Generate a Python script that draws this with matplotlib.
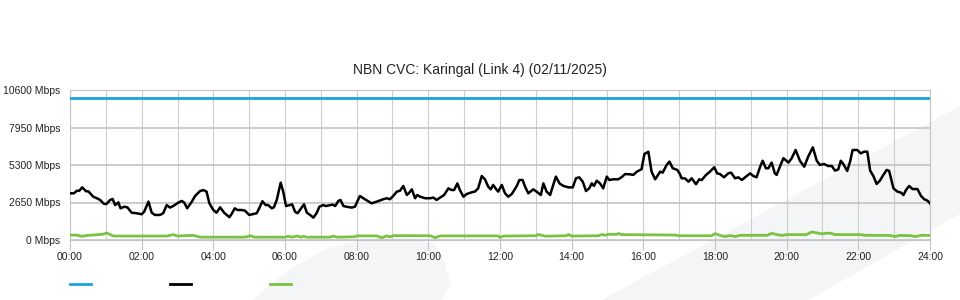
import matplotlib
matplotlib.use("Agg")
import matplotlib.pyplot as plt
from matplotlib.lines import Line2D
from matplotlib.patches import Polygon

plt.rcParams['font.family'] = ['Liberation Sans', 'DejaVu Sans']

# hours of the day and traffic in Mbps
capacity_t = [0, 24]
capacity_v = [10000, 10000]

traffic_t = [0.00, 0.11, 0.19, 0.26, 0.34, 0.45, 0.51, 0.65, 0.75, 0.84, 0.95, 1.02,
             1.12, 1.19, 1.26, 1.35, 1.41, 1.51, 1.60, 1.72, 1.86, 2.00, 2.07, 2.19,
             2.28, 2.37, 2.51, 2.60, 2.70, 2.79, 2.88, 3.02, 3.12, 3.19, 3.27, 3.40,
             3.49, 3.63, 3.72, 3.81, 3.89, 4.00, 4.09, 4.19, 4.30, 4.45, 4.51, 4.60,
             4.67, 4.79, 4.88, 5.00, 5.12, 5.21, 5.28, 5.37, 5.46, 5.53, 5.63, 5.69,
             5.77, 5.88, 5.95, 6.03, 6.14, 6.20, 6.28, 6.35, 6.45, 6.53, 6.61, 6.70,
             6.79, 6.88, 6.96, 7.07, 7.14, 7.24, 7.33, 7.40, 7.49, 7.55, 7.63, 7.72,
             7.86, 7.95, 8.09, 8.23, 8.42, 8.56, 8.74, 8.84, 8.93, 9.02, 9.12, 9.21,
             9.30, 9.40, 9.47, 9.54, 9.63, 9.69, 9.77, 9.91, 10.05, 10.14, 10.23, 10.33,
             10.44, 10.56, 10.65, 10.72, 10.81, 10.88, 10.98, 11.07, 11.21, 11.30, 11.39, 11.49,
             11.58, 11.67, 11.74, 11.81, 11.91, 11.95, 12.05, 12.14, 12.23, 12.33, 12.47, 12.54,
             12.63, 12.70, 12.79, 12.93, 13.02, 13.14, 13.21, 13.30, 13.40, 13.47, 13.56, 13.66,
             13.77, 13.91, 14.03, 14.12, 14.21, 14.31, 14.40, 14.49, 14.56, 14.62, 14.70, 14.79,
             14.88, 14.98, 15.05, 15.16, 15.30, 15.40, 15.49, 15.63, 15.72, 15.82, 15.95, 16.03,
             16.14, 16.23, 16.33, 16.47, 16.54, 16.65, 16.73, 16.82, 16.95, 17.02, 17.07, 17.16,
             17.26, 17.35, 17.47, 17.56, 17.63, 17.75, 17.86, 17.98, 18.06, 18.14, 18.25, 18.37,
             18.45, 18.56, 18.65, 18.75, 18.84, 18.98, 19.07, 19.16, 19.26, 19.33, 19.42, 19.49,
             19.58, 19.67, 19.72, 19.81, 19.91, 20.05, 20.14, 20.25, 20.37, 20.49, 20.60, 20.73,
             20.84, 20.93, 21.04, 21.16, 21.26, 21.35, 21.44, 21.51, 21.58, 21.69, 21.77, 21.84,
             21.97, 22.07, 22.16, 22.25, 22.33, 22.42, 22.51, 22.60, 22.70, 22.79, 22.86, 22.98,
             23.09, 23.19, 23.26, 23.33, 23.42, 23.51, 23.65, 23.75, 23.84, 23.93, 24.00]
traffic_v = [3300, 3300, 3480, 3480, 3720, 3440, 3440, 3060, 2950, 2830, 2550, 2550,
             2830, 2900, 2470, 2660, 2240, 2350, 2310, 1930, 1890, 1820, 2000, 2710,
             1930, 1770, 1770, 1890, 2470, 2290, 2400, 2640, 2760, 2640, 2240, 2710,
             3110, 3460, 3530, 3420, 2590, 2120, 1930, 2310, 1930, 1610, 1840, 2240,
             2120, 2120, 2080, 1770, 1840, 1890, 2240, 2740, 2470, 2470, 2240, 2310,
             2830, 4050, 3420, 2400, 2470, 2520, 2000, 1890, 2240, 2520, 1930, 1770,
             1580, 1890, 2350, 2470, 2400, 2450, 2500, 2400, 2760, 2830, 2400, 2350,
             2290, 2350, 3110, 2880, 2590, 2710, 2880, 2950, 2880, 3110, 3420, 3480,
             3820, 3180, 3350, 3580, 2950, 3180, 3060, 2950, 2950, 3000, 2830, 3000,
             3180, 3650, 3530, 3530, 4000, 3530, 3060, 3250, 3370, 3420, 3650, 4520,
             4290, 3770, 3580, 3890, 3530, 3420, 3890, 3300, 3060, 3250, 3820, 4240,
             4240, 3770, 3300, 3580, 3420, 3180, 4000, 3420, 3180, 3770, 4480, 4000,
             3820, 3720, 3720, 4360, 4430, 4120, 3460, 3650, 4000, 3820, 4190, 4000,
             3650, 4480, 4240, 4290, 4290, 4450, 4660, 4640, 4600, 4830, 5000, 6080,
             6240, 4830, 4290, 4830, 4760, 5300, 5540, 5070, 4950, 4660, 4360, 4360,
             4120, 4360, 3940, 4290, 4240, 4600, 4830, 5140, 4710, 4660, 4430, 4710,
             4760, 4360, 4430, 4240, 4430, 4710, 4520, 4430, 5180, 5600, 5070, 5070,
             5470, 4710, 4600, 5180, 5780, 5470, 5780, 6360, 5600, 5180, 5890, 6550,
             5600, 5300, 5370, 5230, 5230, 4900, 4990, 5600, 5370, 4880, 5540, 6360,
             6360, 6120, 6240, 6240, 4900, 4520, 3960, 4190, 4600, 4950, 4880, 3650,
             3420, 3350, 3180, 3530, 3820, 3600, 3600, 3110, 2880, 2780, 2590]

upload_t = [0, 0.2, 0.33, 0.5, 0.65, 0.93, 1.02, 1.21, 2.7, 2.88, 3.0, 3.44,
            3.63, 4.8, 4.93, 5.02, 5.16, 6.0, 6.09, 6.2, 6.33, 6.45, 6.51, 6.6,
            7.25, 7.35, 7.45, 7.95, 8.0, 8.56, 8.7, 8.84, 8.93, 9.02, 10.05, 10.19,
            10.33, 11.95, 12.0, 12.1, 13.0, 13.07, 13.26, 13.85, 13.91, 14.0, 14.75, 14.84,
            14.93, 15.02, 15.25, 15.3, 15.4, 16.9, 16.98, 17.9, 18.0, 18.14, 18.28, 18.42,
            18.56, 18.7, 19.45, 19.58, 19.72, 19.86, 20.0, 20.55, 20.7, 20.84, 20.98, 21.1,
            21.21, 21.35, 22.05, 22.19, 22.9, 23.02, 23.15, 23.44, 23.58, 23.77, 24.0]
upload_v = [350, 340, 260, 330, 350, 410, 500, 280, 280, 380, 280, 330,
            200, 200, 220, 300, 200, 200, 270, 200, 280, 200, 270, 200,
            200, 280, 200, 230, 290, 290, 160, 290, 220, 310, 300, 160,
            290, 290, 180, 280, 300, 390, 270, 300, 390, 280, 300, 390,
            330, 400, 400, 460, 380, 350, 300, 300, 450, 330, 240, 320,
            240, 330, 330, 470, 390, 320, 380, 380, 570, 500, 440, 470,
            490, 380, 380, 330, 320, 240, 320, 310, 240, 330, 330]

y_ticks = [0, 2650, 5300, 7950, 10600]
y_labels = ['0 Mbps', '2650 Mbps', '5300 Mbps', '7950 Mbps', '10600 Mbps']
x_ticks = list(range(0, 25, 2))
x_labels = ['%02d:00' % h for h in x_ticks]

grid_col = '#c4c4c4'
blue = '#1ba3e0'
green = '#7cc142'

fig = plt.figure(figsize=(9.6, 3.0), dpi=100)

# faint watermark swoosh behind the chart
wm = '#f4f5f7'
fig.patches.append(Polygon([(253/960, 0), (290/960, 30/300), (330/960, 52/300),
                            (377/960, 62/300), (410/960, 62/300), (435/960, 55/300),
                            (445/960, 35/300), (450/960, 15/300), (440/960, 0)],
                           closed=True, transform=fig.transFigure, color=wm, zorder=-5))
fig.patches.append(Polygon([(603/960, 0), (960/960, 193/300), (960/960, 87/300), (807/960, 0)],
                           closed=True, transform=fig.transFigure, color=wm, zorder=-5))

ax = fig.add_axes([70/960, 0.2, 860/960, 0.5])
ax.set_facecolor('none')
ax.set_zorder(2)

ax.plot(capacity_t, capacity_v, color=blue, lw=2.0, zorder=3)
ax.plot(traffic_t, traffic_v, color='black', lw=1.8, zorder=3)
ax.plot(upload_t, upload_v, color=green, lw=2.0, zorder=3)

ax.set_xlim(0, 24)
ax.set_ylim(0, 10600)
ax.set_yticks(y_ticks)
ax.set_yticklabels(y_labels)
ax.set_xticks(x_ticks)
ax.set_xticklabels(x_labels)
ax.set_xticks(range(25), minor=True)

ax.grid(axis='y', color=grid_col, lw=1.2)
ax.grid(axis='x', which='both', color='#cfcfcf', lw=0.8)
for s in ax.spines.values():
    s.set_color(grid_col)
    s.set_linewidth(0.8)

ax.tick_params(axis='y', length=0, pad=7, labelsize=7.5, labelcolor='#222222')
ax.tick_params(axis='x', which='major', length=7, width=0.8, color=grid_col,
               pad=2, labelsize=7.5, labelcolor='#222222')
ax.tick_params(axis='x', which='minor', length=0)

fig.text(0.5, 0.767, 'NBN CVC: Karingal (Link 4) (02/11/2025)', ha='center', va='center',
         fontsize=10, color='#222222')

handles = [Line2D([], [], color=c, lw=2.0) for c in (blue, 'black', green)]
fig.legend(handles, ['', '', ''], ncol=3, frameon=False, loc='center left',
           bbox_to_anchor=(70/960, 0.05), borderpad=0, borderaxespad=0,
           handlelength=1.9, handletextpad=0, columnspacing=7.1, fontsize=8)

fig.savefig('out.png', dpi=100, facecolor='white')
